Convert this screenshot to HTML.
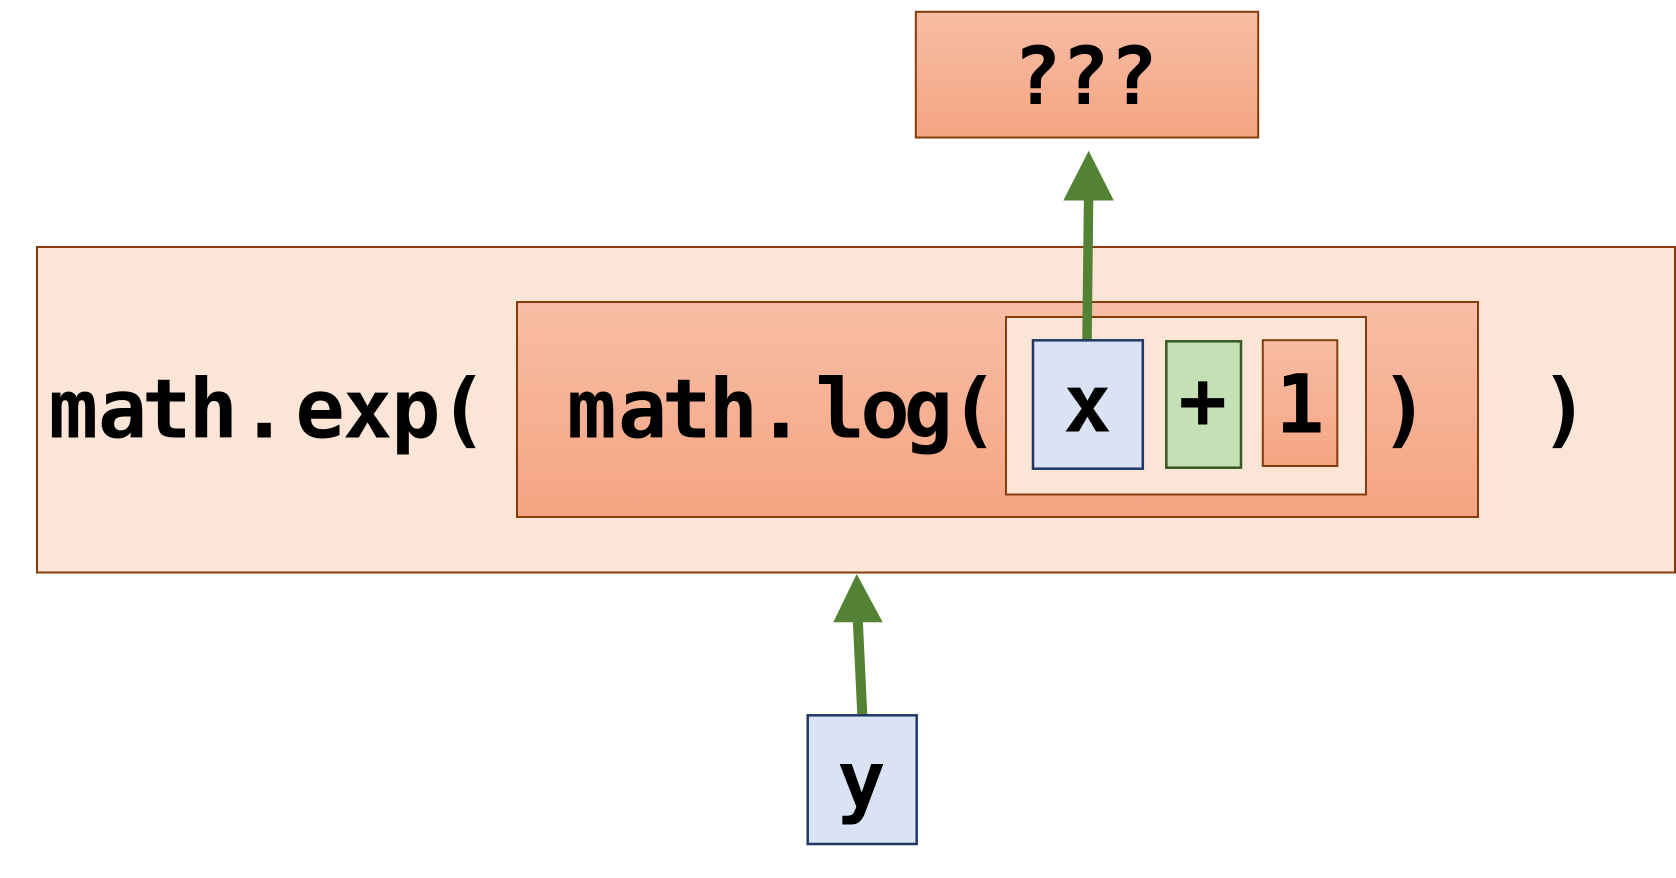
<!DOCTYPE html>
<html>
<head>
<meta charset="utf-8">
<style>
  html, body { margin: 0; padding: 0; background: #ffffff; }
  body { width: 1676px; height: 878px; overflow: hidden; }
  svg { display: block; }
  text { font-family: "DejaVu Sans Mono", "Liberation Mono", monospace; font-weight: bold; fill: #000; }
  .c { text-anchor: middle; font-size: 82px; }
</style>
</head>
<body>
<svg width="1676" height="878" viewBox="0 0 1676 878" xmlns="http://www.w3.org/2000/svg">
  <defs>
    <linearGradient id="og" x1="0" y1="0" x2="0" y2="1">
      <stop offset="0" stop-color="#f7bda5"/>
      <stop offset="1" stop-color="#f5a582"/>
    </linearGradient>
  </defs>

  <!-- top ??? box -->
  <rect x="915.8" y="11.8" width="342.4" height="125.7" fill="url(#og)" stroke="#843c0c" stroke-width="2"/>
  <text x="1085.5" y="104" font-size="80" text-anchor="middle">???</text>

  <!-- outer math.exp box -->
  <rect x="37" y="247" width="1638" height="325.5" fill="#fbe5d6" stroke="#843c0c" stroke-width="2"/>
  <text class="c" x="73.3" y="437.5">m</text>
  <text class="c" x="122.5" y="437.5">a</text>
  <text class="c" x="166.7" y="437.5">t</text>
  <text class="c" x="213.3" y="437.5">h</text>
  <text class="c" x="264.2" y="437.5">.</text>
  <text class="c" x="320" y="437.5">e</text>
  <text class="c" x="367.5" y="437.5">x</text>
  <text class="c" x="415.8" y="437.5">p</text>
  <text class="c" x="463.3" y="437.5">(</text>
  <text class="c" x="1564.5" y="437.5">)</text>

  <!-- math.log box -->
  <rect x="517" y="302" width="961" height="215" fill="url(#og)" stroke="#843c0c" stroke-width="2"/>
  <text class="c" x="591.7" y="437.5">m</text>
  <text class="c" x="642.5" y="437.5">a</text>
  <text class="c" x="686.7" y="437.5">t</text>
  <text class="c" x="733.3" y="437.5">h</text>
  <text class="c" x="780.8" y="437.5">.</text>
  <text class="c" x="840" y="437.5">l</text>
  <text class="c" x="885" y="437.5">o</text>
  <text class="c" x="928.3" y="437.5">g</text>
  <text class="c" x="974.2" y="437.5">(</text>
  <text class="c" x="1404.5" y="437.5">)</text>

  <!-- inner argument box -->
  <rect x="1006" y="317" width="360" height="177.5" fill="#fbe5d6" stroke="#843c0c" stroke-width="2"/>

  <!-- top arrow -->
  <line x1="1087" y1="341" x2="1088.6" y2="198" stroke="#548235" stroke-width="9.5"/>
  <polygon points="1088.7,150.7 1063.3,200.5 1113.8,200.5" fill="#548235"/>

  <!-- x box -->
  <rect x="1033" y="340.3" width="109.8" height="128.4" fill="#dae3f3" stroke="#203864" stroke-width="2.5"/>
  <text x="1087.5" y="431.7" font-size="80" text-anchor="middle">x</text>

  <!-- + box -->
  <rect x="1166.3" y="341.3" width="74.7" height="126.4" fill="#c5e0b4" stroke="#385723" stroke-width="2.5"/>
  <text x="1202.7" y="428" font-size="80" text-anchor="middle">+</text>

  <!-- 1 box -->
  <rect x="1262.8" y="340.2" width="74.5" height="125.8" fill="url(#og)" stroke="#843c0c" stroke-width="2"/>
  <text x="1300" y="432.7" font-size="81" text-anchor="middle">1</text>

  <!-- bottom arrow -->
  <line x1="862.3" y1="715" x2="857.8" y2="620" stroke="#548235" stroke-width="10"/>
  <polygon points="856.7,574 833.3,622.3 882.7,622.3" fill="#548235"/>

  <!-- y box -->
  <rect x="807.7" y="715.3" width="109" height="128.7" fill="#dae3f3" stroke="#203864" stroke-width="2.5"/>
  <text x="861.5" y="807.8" font-size="80" text-anchor="middle">y</text>
</svg>
</body>
</html>
